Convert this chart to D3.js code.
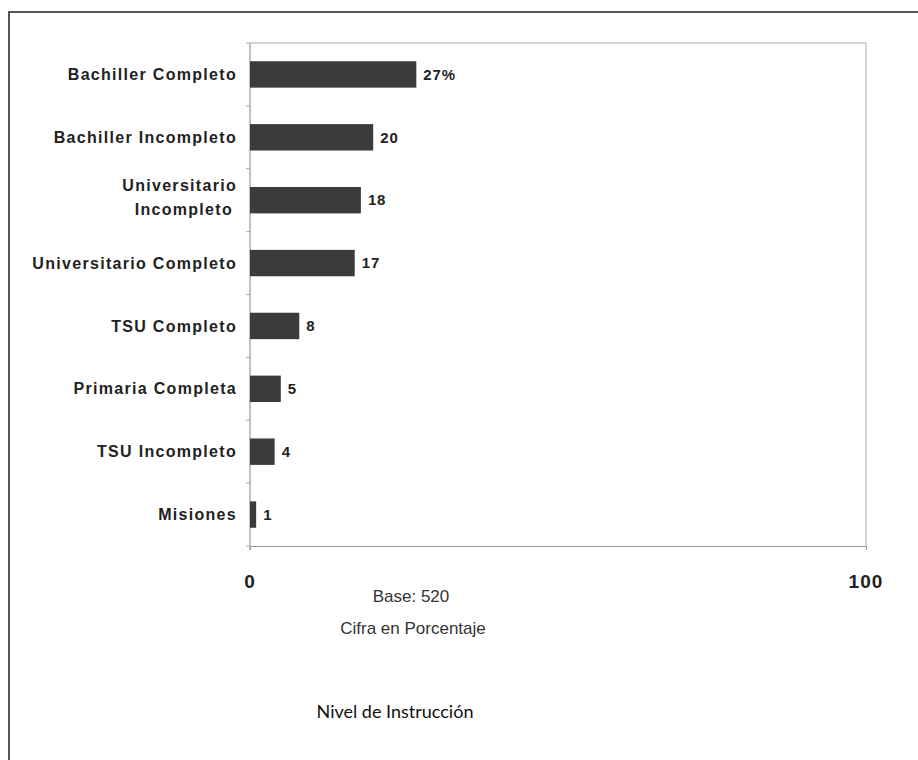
<!DOCTYPE html>
<html lang="es">
<head>
    <meta charset="UTF-8"/>
    <title>Nivel de Instrucción</title>
    <script src="https://d3js.org/d3.v7.min.js"></script>
    <style>
        body { margin: 0; background: #fff; }
        .cat { font-family: "Liberation Sans", Arial, sans-serif; font-weight: bold; font-size: 16px; fill: #222; letter-spacing: 1.3px; }
        .val { font-family: "Liberation Sans", Arial, sans-serif; font-weight: bold; font-size: 15px; fill: #222; letter-spacing: 0.9px; }
        .tick-lbl { font-family: "Liberation Sans", Arial, sans-serif; font-weight: bold; font-size: 19px; fill: #222; letter-spacing: 1.1px; }
        .note { font-family: "Liberation Sans", Arial, sans-serif; font-size: 17px; fill: #333; }
        .title { font-family: Lato, "Open Sans", sans-serif; font-size: 18px; fill: #111; }
    </style>
</head>
<body>
    <script>
        var w = 918;
        var h = 760;

        var categories = ["Bachiller Completo", "Bachiller Incompleto", "Universitario Incompleto",
            "Universitario Completo", "TSU Completo", "Primaria Completa", "TSU Incompleto", "Misiones"];
        var values = [27, 20, 18, 17, 8, 5, 4, 1];
        var valueLabels = ["27%", "20", "18", "17", "8", "5", "4", "1"];
        var xTicks = [0, 100];

        var plotLeft = 250, plotRight = 866, plotTop = 43, plotBottom = 546;

        var svg = d3.select("body")
            .append("svg")
            .attr("width", w)
            .attr("height", h);

        // outer frame (top and left edges only visible)
        svg.append("path")
            .attr("d", "M9," + h + "V12H" + w)
            .attr("fill", "none")
            .attr("stroke", "#555")
            .attr("stroke-width", 2);

        var xScale = d3.scaleLinear()
            .domain([0, 100])
            .range([plotLeft, plotRight]);

        var yScale = d3.scaleBand()
            .domain(categories)
            .range([plotTop, plotBottom])
            .paddingInner(0.58)
            .paddingOuter(0.29);

        // plot area border (top and right)
        svg.append("path")
            .attr("d", "M" + plotLeft + "," + plotTop + "H" + plotRight + "V" + plotBottom)
            .attr("fill", "none")
            .attr("stroke", "#c8c8c8")
            .attr("stroke-width", 1.5);

        // category separators on the left axis
        var step = (plotBottom - plotTop) / categories.length;
        svg.append("g")
            .selectAll("line")
            .data(d3.range(categories.length + 1))
            .enter()
            .append("line")
            .attr("x1", plotLeft - 4)
            .attr("x2", plotLeft)
            .attr("y1", function(d) { return plotTop + d * step; })
            .attr("y2", function(d) { return plotTop + d * step; })
            .attr("stroke", "#aaa");

        svg.append("line")
            .attr("x1", plotLeft).attr("x2", plotLeft)
            .attr("y1", plotTop).attr("y2", plotBottom + 4)
            .attr("stroke", "#999")
            .attr("stroke-width", 1.2);

        // x axis
        var xAxis = svg.append("g")
            .attr("transform", "translate(0," + plotBottom + ")")
            .call(d3.axisBottom(xScale).tickValues(xTicks).tickSize(4).tickSizeOuter(0).tickFormat(""));
        xAxis.select(".domain").attr("stroke", "#999").attr("stroke-width", 1.2);
        xAxis.selectAll(".tick line").attr("stroke", "#999");

        svg.selectAll(".tick-lbl")
            .data(xTicks)
            .enter()
            .append("text")
            .attr("class", "tick-lbl")
            .attr("x", function(d) { return xScale(d); })
            .attr("y", 588)
            .attr("text-anchor", "middle")
            .text(function(d) { return d; });

        // bars
        svg.selectAll("rect.bar")
            .data(values)
            .enter()
            .append("rect")
            .attr("class", "bar")
            .attr("x", xScale(0))
            .attr("y", function(d, i) { return yScale(categories[i]); })
            .attr("width", function(d) { return xScale(d) - xScale(0); })
            .attr("height", yScale.bandwidth())
            .attr("fill", "#3b3b3b");

        // value labels
        svg.selectAll("text.val")
            .data(values)
            .enter()
            .append("text")
            .attr("class", "val")
            .attr("x", function(d) { return xScale(d) + 7; })
            .attr("y", function(d, i) { return yScale(categories[i]) + yScale.bandwidth() / 2; })
            .attr("dy", "0.35em")
            .text(function(d, i) { return valueLabels[i]; });

        // category labels
        svg.selectAll("text.cat")
            .data(categories)
            .enter()
            .append("text")
            .attr("class", "cat")
            .attr("x", 237)
            .attr("y", function(d) { return yScale(d) + yScale.bandwidth() / 2; })
            .attr("text-anchor", "end")
            .each(function(d) {
                var t = d3.select(this);
                if (d === "Universitario Incompleto") {
                    t.append("tspan").attr("x", 237).attr("dy", "-0.55em").text("Universitario");
                    t.append("tspan").attr("x", 233).attr("dy", "1.45em").text("Incompleto");
                } else {
                    t.attr("dy", "0.35em").text(d);
                }
            });

        // notes
        svg.append("text").attr("class", "note")
            .attr("x", 411).attr("y", 602).attr("text-anchor", "middle")
            .text("Base: 520");
        svg.append("text").attr("class", "note")
            .attr("x", 413).attr("y", 634).attr("text-anchor", "middle")
            .text("Cifra en Porcentaje");

        svg.append("text").attr("class", "title")
            .attr("x", 395).attr("y", 718).attr("text-anchor", "middle")
            .text("Nivel de Instrucción");
    </script>
</body>
</html>
